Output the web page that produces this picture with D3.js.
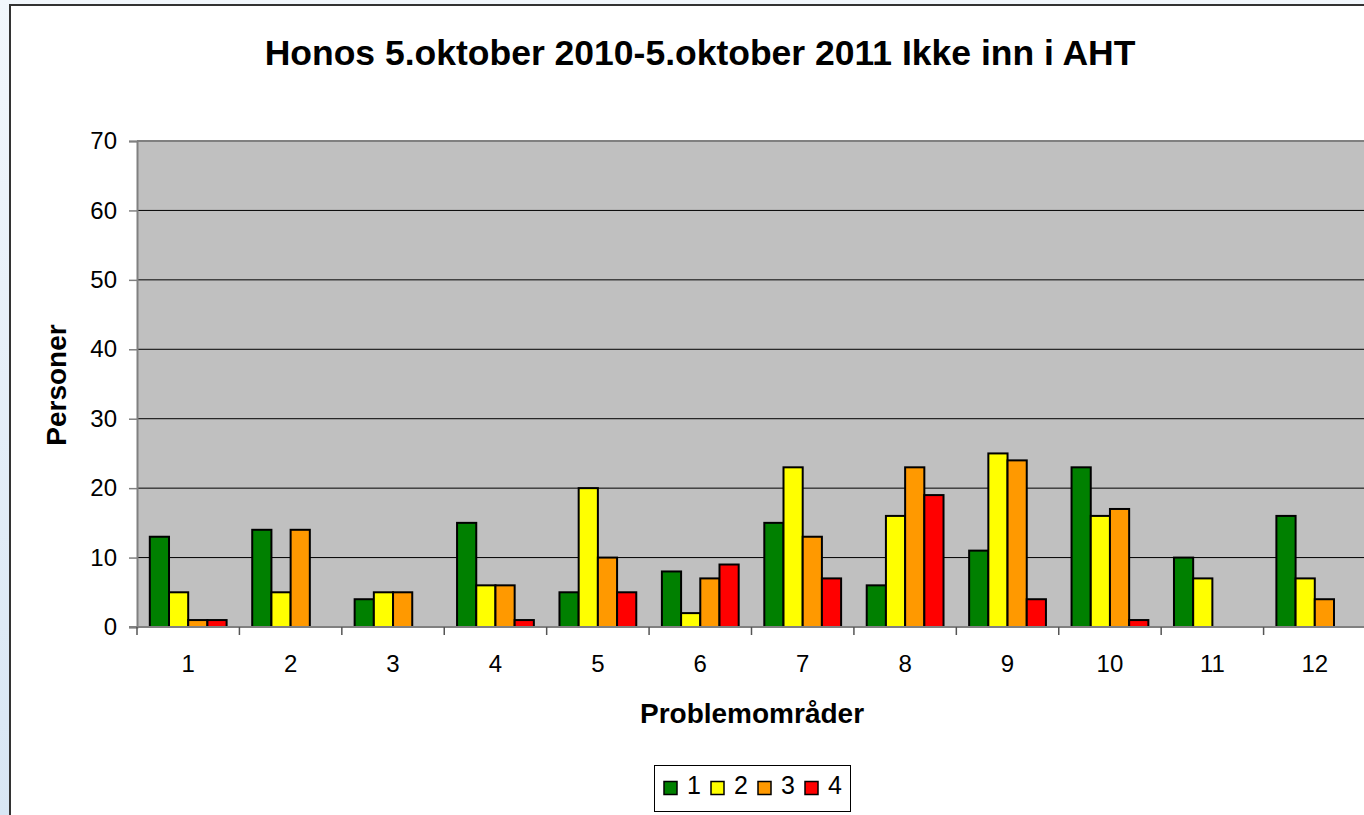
<!DOCTYPE html>
<html>
<head>
<meta charset="utf-8">
<script src="https://cdn.jsdelivr.net/npm/d3@7"></script>
<style>
body { margin: 0; background: #eef4fa; overflow: hidden; }
svg { display: block; font-family: Arial, "Liberation Sans", sans-serif; }
</style>
</head>
<body>
<script>
// data
const categories = ["1","2","3","4","5","6","7","8","9","10","11","12"];
const series = ["1","2","3","4"];
const s1 = [13, 14, 4, 15, 5, 8, 15, 6, 11, 23, 10, 16];
const s2 = [5, 5, 5, 6, 20, 2, 23, 16, 25, 16, 7, 7];
const s3 = [1, 14, 5, 6, 10, 7, 13, 23, 24, 17, 0, 4];
const s4 = [1, 0, 0, 1, 5, 9, 7, 19, 4, 1, 0, 0];
const yTicks = [0, 10, 20, 30, 40, 50, 60, 70];
const colors = ["#008000", "#ffff00", "#ff9900", "#ff0000"];

const values = [s1, s2, s3, s4];
const width = 1364, height = 815;

const svg = d3.select("body").append("svg")
	.attr("width", width)
	.attr("height", height);

// light blue backdrop
const grad = svg.append("defs").append("linearGradient")
	.attr("id", "bg").attr("x1", 0).attr("x2", 0).attr("y1", 0).attr("y2", 1);
grad.append("stop").attr("offset", 0).attr("stop-color", "#f2f7fc");
grad.append("stop").attr("offset", 1).attr("stop-color", "#d8e6f4");
svg.append("rect").attr("width", width).attr("height", height).attr("fill", "url(#bg)");

// chart area
svg.append("rect")
	.attr("x", 10).attr("y", 5)
	.attr("width", 1400).attr("height", 900)
	.attr("fill", "#fff")
	.attr("stroke", "#333").attr("stroke-width", 2);

const x = d3.scaleBand().domain(categories).range([137, 1366]);
const xs = d3.scaleBand().domain(series).range([0, x.bandwidth()]).paddingOuter(0.667);
const y = d3.scaleLinear().domain([0, 70]).range([627, 141]);

// plot background
svg.append("rect")
	.attr("x", 137).attr("y", y(70))
	.attr("width", 1366 - 137).attr("height", y(0) - y(70))
	.attr("fill", "#c0c0c0");

// gridlines
svg.append("g").selectAll("line")
	.data(yTicks.filter(d => d > 0 && d < 70))
	.join("line")
	.attr("x1", 137).attr("x2", 1366)
	.attr("y1", d => y(d)).attr("y2", d => y(d))
	.attr("stroke", "#000").attr("stroke-width", 1);

svg.append("line")
	.attr("x1", 137).attr("x2", 1366)
	.attr("y1", y(70)).attr("y2", y(70))
	.attr("stroke", "#808080").attr("stroke-width", 2);

// y axis
const yAxis = svg.append("g")
	.attr("transform", "translate(137,0)")
	.call(d3.axisLeft(y).tickValues(yTicks).tickSize(8).tickPadding(12));
yAxis.select(".domain").attr("stroke", "#808080").attr("stroke-width", 2);
yAxis.selectAll(".tick line").attr("stroke", "#808080").attr("stroke-width", 1.5);
yAxis.selectAll("text").attr("font-size", 24).attr("fill", "#000").attr("font-family", "Arial, Liberation Sans");

// bars
const groups = svg.append("g").selectAll("g")
	.data(categories)
	.join("g")
	.attr("transform", d => `translate(${x(d)},0)`);

groups.selectAll("rect")
	.data((c, i) => series.map((s, j) => ({ s: s, v: values[j][i], c: colors[j] })))
	.join("rect")
	.attr("x", d => xs(d.s))
	.attr("width", xs.bandwidth())
	.attr("y", d => y(d.v))
	.attr("height", d => y(0) - y(d.v))
	.attr("fill", d => d.c)
	.attr("stroke", "#000")
	.attr("stroke-width", d => d.v > 0 ? 2 : 0);

// x axis
const xAxis = svg.append("g")
	.attr("transform", `translate(0,${y(0)})`)
	.call(d3.axisBottom(x).tickSize(0).tickPadding(28));
xAxis.select(".domain").remove();
xAxis.selectAll("text").attr("font-size", 24).attr("fill", "#000").attr("font-family", "Arial, Liberation Sans");

svg.append("line")
	.attr("x1", 129).attr("x2", 1366)
	.attr("y1", y(0)).attr("y2", y(0))
	.attr("stroke", "#808080").attr("stroke-width", 2);

svg.append("g").selectAll("line")
	.data(categories.concat(["end"]))
	.join("line")
	.attr("x1", (d, i) => 137 + i * x.step())
	.attr("x2", (d, i) => 137 + i * x.step())
	.attr("y1", y(0)).attr("y2", y(0) + 8)
	.attr("stroke", "#555").attr("stroke-width", 1.5);

// titles
svg.append("text")
	.attr("x", 700).attr("y", 65)
	.attr("text-anchor", "middle")
	.attr("font-size", 35.5).attr("font-weight", "bold")
	.text("Honos 5.oktober 2010-5.oktober 2011 Ikke inn i AHT");

svg.append("text")
	.attr("transform", "translate(66,385) rotate(-90)")
	.attr("text-anchor", "middle")
	.attr("font-size", 28).attr("font-weight", "bold")
	.text("Personer");

svg.append("text")
	.attr("x", 752).attr("y", 723)
	.attr("text-anchor", "middle")
	.attr("font-size", 28).attr("font-weight", "bold")
	.text("Problemområder");

// legend
const legend = svg.append("g");
legend.append("rect")
	.attr("x", 654.5).attr("y", 765.5)
	.attr("width", 196).attr("height", 46)
	.attr("fill", "#fff").attr("stroke", "#000").attr("stroke-width", 1);

const item = legend.selectAll("g.item")
	.data(series)
	.join("g")
	.attr("class", "item")
	.attr("transform", (d, i) => `translate(${664 + i * 47},0)`);
item.append("rect")
	.attr("x", 0).attr("y", 781.5)
	.attr("width", 13).attr("height", 13)
	.attr("fill", (d, i) => colors[i])
	.attr("stroke", "#000").attr("stroke-width", 1.5);
item.append("text")
	.attr("x", 23).attr("y", 794)
	.attr("font-size", 25)
	.text(d => d);
</script>
</body>
</html>
